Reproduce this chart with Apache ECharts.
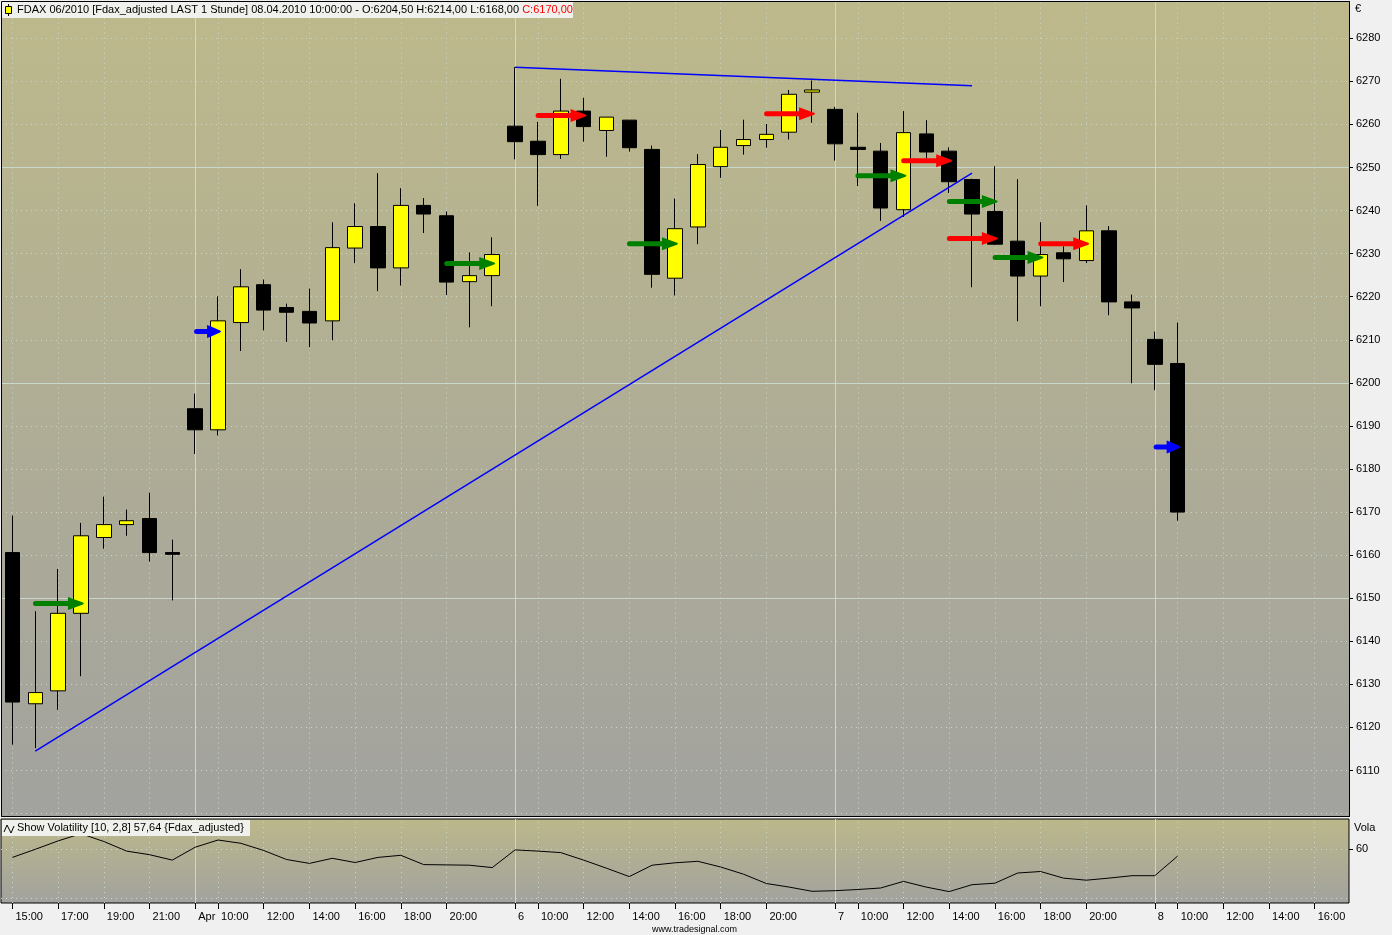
<!DOCTYPE html>
<html><head><meta charset="utf-8">
<script src="https://cdn.jsdelivr.net/npm/echarts@6/dist/echarts.min.js"></script>
<style>html,body{margin:0;padding:0;background:#f0f0f0;}#c{width:1392px;height:935px;}</style>
</head><body><div id="c"></div><script>
// ---------------- data ----------------
const categories = [
 '31.03 15:00','31.03 16:00','31.03 17:00','31.03 18:00','31.03 19:00','31.03 20:00','31.03 21:00','31.03 22:00',
 '01.04 09:00','01.04 10:00','01.04 11:00','01.04 12:00','01.04 13:00','01.04 14:00','01.04 15:00','01.04 16:00','01.04 17:00','01.04 18:00','01.04 19:00','01.04 20:00','01.04 21:00','01.04 22:00',
 '06.04 09:00','06.04 10:00','06.04 11:00','06.04 12:00','06.04 13:00','06.04 14:00','06.04 15:00','06.04 16:00','06.04 17:00','06.04 18:00','06.04 19:00','06.04 20:00','06.04 21:00','06.04 22:00',
 '07.04 09:00','07.04 10:00','07.04 11:00','07.04 12:00','07.04 13:00','07.04 14:00','07.04 15:00','07.04 16:00','07.04 17:00','07.04 18:00','07.04 19:00','07.04 20:00','07.04 21:00','07.04 22:00',
 '08.04 09:00','08.04 10:00','08.04 11:00','08.04 12:00','08.04 13:00','08.04 14:00','08.04 15:00','08.04 16:00','08.04 17:00'
];
const tickLabels = [
 '15:00','','17:00','','19:00','','21:00','',
 'Apr','10:00','','12:00','','14:00','','16:00','','18:00','','20:00','','',
 '6','10:00','','12:00','','14:00','','16:00','','18:00','','20:00','','',
 '7','10:00','','12:00','','14:00','','16:00','','18:00','','20:00','','',
 '8','10:00','','12:00','','14:00','','16:00',''
];
const dayStarts = [8, 22, 36, 50];

const opens  = [6160.6,6125.5,6128.5,6146.5,6164.1,6167.1,6168.5,6160.6,
  6194.0,6189.1,6214.0,6222.8,6217.5,6216.6,6214.4,6231.3,6236.3,6226.7,6241.2,6238.8,6223.5,6224.9,
  6259.6,6256.1,6253.0,6263.1,6258.6,6261.0,6254.2,6224.3,6236.2,6250.2,6255.1,6256.5,6258.2,6267.5,
  6263.5,6254.7,6253.8,6240.2,6257.8,6253.8,6247.2,6239.8,6232.9,6224.8,6230.2,6228.4,6235.3,6218.8,
  6210.1,6204.5];
const closes = [6125.9,6128.1,6146.5,6164.5,6167.1,6168.0,6160.6,6160.2,
  6189.1,6214.4,6222.3,6216.9,6216.4,6213.9,6231.4,6236.3,6226.7,6241.2,6239.2,6223.4,6224.9,6229.8,
  6256.0,6253.0,6263.1,6259.5,6261.7,6254.6,6225.2,6235.8,6250.7,6254.7,6256.5,6257.7,6267.0,6268.0,
  6255.5,6254.2,6240.6,6258.1,6253.6,6246.7,6239.2,6232.2,6224.8,6229.8,6228.8,6235.3,6218.8,6217.4,
  6204.3,6170.0];
const lows   = [6116.0,6115.2,6124.1,6131.9,6161.5,6164.5,6158.5,6149.5,
  6183.5,6187.8,6207.4,6212.2,6209.5,6208.3,6209.9,6227.8,6221.3,6222.6,6234.8,6220.4,6212.9,6217.8,
  6251.9,6241.1,6252.0,6256.0,6252.5,6253.7,6222.1,6220.3,6232.2,6247.6,6253.0,6254.6,6256.5,6260.4,
  6251.6,6245.7,6237.6,6238.5,6252.1,6244.1,6222.2,6232.0,6214.3,6217.8,6223.4,6227.8,6215.7,6199.9,
  6198.3,6168.0];
const highs  = [6169.2,6147.0,6156.8,6167.5,6173.6,6170.6,6174.5,6163.6,
  6197.5,6220.1,6226.4,6224.0,6218.4,6221.9,6237.3,6241.7,6248.7,6245.2,6242.9,6239.8,6230.3,6233.8,
  6273.3,6260.6,6270.6,6266.2,6261.7,6261.0,6255.1,6242.8,6253.1,6258.7,6261.1,6260.1,6268.0,6270.2,
  6264.1,6262.7,6255.7,6263.1,6261.0,6254.7,6247.4,6250.3,6247.3,6237.3,6231.7,6241.2,6236.4,6220.5,
  6211.9,6214.0];

const vola = [57.2,59.9,62.7,65.1,62.5,59.3,58.1,56.3,
  60.6,63.0,61.9,59.5,56.5,55.2,56.9,55.5,57.2,57.9,54.8,54.7,54.6,53.8,
  59.7,59.3,58.8,56.3,53.6,50.8,54.6,55.4,55.9,54.0,51.6,48.5,47.3,45.9,
  46.1,46.5,47.0,49.2,47.3,45.8,48.1,48.6,52.0,52.5,50.3,49.6,50.3,51.1,
  51.1,57.64];

const arrowIndex = [3, 9, 21, 25, 29, 35, 39, 41, 43, 43, 45, 47, 51];
const arrowPrice = [6148.8, 6211.9, 6227.7, 6262.1, 6232.3, 6262.5, 6248.1, 6251.6, 6242.1, 6233.5, 6229.1, 6232.3, 6185.1];
const arrowKind  = ['green','blue','green','red','green','red','green','red','green','red','green','red','blue'];

const upTrend  = [[1, 6114.5], [42, 6248.7]];
const topTrend = [[22, 6273.3], [42, 6269.0]];

const priceSolidLines = [6150, 6200, 6250];
const volaDottedLines = [60, 43.5];
const volaTickValues = [60];

const headerMain  = 'FDAX 06/2010 [Fdax_adjusted LAST 1 Stunde] 08.04.2010 10:00:00 - O:6204,50 H:6214,00 L:6168,00 ';
const headerClose = 'C:6170,00';
const volaTitle   = 'Show Volatility [10, 2,8] 57,64 {Fdax_adjusted}';

// ---------------- chart ----------------
const FONT = 'Liberation Sans';
const gridColor = '#c8d8cc';
const dotted = { color: gridColor, width: 1, type: [1, 4] };
const solid  = { color: gridColor, width: 1, type: 'solid' };
const labeledIdx = tickLabels.map((t, i) => (t !== '' && dayStarts.indexOf(i) < 0) ? i : -1).filter(i => i >= 0);
const vLines = (style, idxs) => idxs.map(i => ({ xAxis: i, lineStyle: style }));
const arrowColors = { green: '#008000', red: '#ff0000', blue: '#0000ff' };
const arrowLen = { green: 51, red: 51, blue: 27 };
const candleData = opens.map((o, i) => [o, closes[i], lows[i], highs[i]]);
const arrowData = arrowIndex.map((x, i) => [x, arrowPrice[i]]);

const grad = (a, b) => ({ type: 'linear', x: 0, y: 0, x2: 0, y2: 1,
  colorStops: [{ offset: 0, color: a }, { offset: 1, color: b }] });

const chart = echarts.init(document.getElementById('c'), null, { renderer: 'canvas' });
const option = {
  animation: false,
  backgroundColor: '#f0f0f0',
  grid: [
    { left: 1, top: 1, width: 1348, height: 812.6, show: false, outerBoundsMode: 'none', containLabel: false },
    { left: 1, top: 819, width: 1348, height: 84, show: true, borderColor: '#000', borderWidth: 1,
      backgroundColor: grad('#bcb88a', '#a2a29f'), outerBoundsMode: 'none', containLabel: false }
  ],
  xAxis: [
    { type: 'category', gridIndex: 0, data: categories, boundaryGap: true,
      axisLine: { show: false }, axisTick: { show: false }, axisLabel: { show: false }, splitLine: { show: false } },
    { type: 'category', gridIndex: 1, data: categories, boundaryGap: true,
      axisLine: { show: false },
      axisTick: { show: true, alignWithLabel: true, length: 6, interval: (i) => tickLabels[i] !== '',
        lineStyle: { color: '#000', width: 1 } },
      axisLabel: { interval: (i) => tickLabels[i] !== '', formatter: (v, i) => tickLabels[i],
        align: 'left', padding: [0, 0, 0, 3], margin: 8, color: '#000', fontFamily: FONT, fontSize: 11, hideOverlap: false },
      splitLine: { show: false } }
  ],
  yAxis: [
    { type: 'value', gridIndex: 0, position: 'right', min: 6100, max: 6288.66, interval: 10,
      axisLine: { show: false },
      axisTick: { show: true, length: 4, lineStyle: { color: '#000' } },
      axisLabel: { margin: 7, padding: [3, 0, 0, 0], showMinLabel: false, showMaxLabel: false, color: '#000', fontFamily: FONT, fontSize: 11,
        formatter: (v) => String(Math.round(v)) },
      splitLine: { show: true, lineStyle: dotted } },
    { type: 'value', gridIndex: 1, position: 'right', min: 42, max: 70,
      axisLine: { show: false },
      axisTick: { show: true, length: 4, customValues: volaTickValues, lineStyle: { color: '#000' } },
      axisLabel: { customValues: volaTickValues, margin: 7, padding: [2, 0, 0, 0], color: '#000', fontFamily: FONT, fontSize: 11 },
      splitLine: { show: false } }
  ],
  series: [
    { type: 'line', xAxisIndex: 0, yAxisIndex: 0, data: [], z: 1, silent: true,
      markLine: { z: 1, symbol: 'none', silent: true, animation: false, label: { show: false },
        data: [].concat(vLines(dotted, labeledIdx), vLines(solid, dayStarts),
          priceSolidLines.map(v => ({ yAxis: v, lineStyle: solid }))) } },
    { type: 'candlestick', xAxisIndex: 0, yAxisIndex: 0, data: candleData, z: 3, barWidth: 15,
      itemStyle: { color: '#ffff00', color0: '#000000', borderColor: '#000000', borderColor0: '#000000', borderWidth: 1 } },
    { type: 'line', xAxisIndex: 0, yAxisIndex: 0, data: [], z: 4, silent: true,
      markLine: { z: 6, symbol: 'none', silent: true, animation: false, label: { show: false },
        lineStyle: { color: '#0000ff', width: 1.5, type: 'solid' },
        data: [
          [{ coord: upTrend[0] }, { coord: upTrend[1] }],
          [{ coord: topTrend[0] }, { coord: topTrend[1] }]
        ] } },
    { type: 'custom', xAxisIndex: 0, yAxisIndex: 0, data: arrowData, z: 7, silent: true,
      renderItem: function (params, api) {
        const kind = arrowKind[params.dataIndex];
        const p = api.coord([api.value(0), api.value(1)]);
        const tip = p[0] + 3, y = p[1];
        const L = arrowLen[kind], c = arrowColors[kind];
        const hl = kind === 'blue' ? 14 : 16;
        return { type: 'group', children: [
          { type: 'rect', shape: { x: tip - L, y: y - 2.5, width: L - hl + 3, height: 5, r: 2.5 }, style: { fill: c } },
          { type: 'polygon', shape: { points: [[tip - hl, y - 6.5], [tip - hl + 4, y - 5], [tip - 1, y - 1], [tip, y],
              [tip - 1, y + 1], [tip - hl + 4, y + 5], [tip - hl, y + 6.5]] }, style: { fill: c } }
        ] };
      } },
    { type: 'line', xAxisIndex: 1, yAxisIndex: 1, data: [], z: 1, silent: true,
      markLine: { z: 1, symbol: 'none', silent: true, animation: false, label: { show: false },
        data: [].concat(vLines(dotted, labeledIdx), vLines(solid, dayStarts),
          volaDottedLines.map(v => ({ yAxis: v, lineStyle: dotted }))) } },
    { type: 'line', xAxisIndex: 1, yAxisIndex: 1, data: vola, z: 3, symbol: 'none', silent: true,
      lineStyle: { color: '#000', width: 1 } }
  ],
  graphic: [
    { type: 'rect', z: -10, shape: { x: 1.5, y: 1.5, width: 1348, height: 815 },
      style: { fill: grad('#bdb98b', '#a2a29f'), stroke: '#000', lineWidth: 1 } },
    { type: 'rect', z: 20, shape: { x: 1.5, y: 1.5, width: 1348, height: 815 },
      style: { fill: null, stroke: '#000', lineWidth: 1 } },
    { type: 'rect', left: 2, top: 2, shape: { width: 571, height: 16 }, style: { fill: '#f0f0ec' }, z: 10 },
    { type: 'line', shape: { x1: 8.5, y1: 4, x2: 8.5, y2: 16 }, style: { stroke: '#000', lineWidth: 1 }, z: 11 },
    { type: 'rect', shape: { x: 5.5, y: 6.5, width: 6, height: 7 }, style: { fill: '#ffff00', stroke: '#000', lineWidth: 1 }, z: 12 },
    { type: 'text', left: 17, top: 4, z: 12,
      style: { text: '{a|' + headerMain + '}{b|' + headerClose + '}',
        rich: { a: { fill: '#000', fontFamily: FONT, fontSize: 11 }, b: { fill: '#ff0000', fontFamily: FONT, fontSize: 11 } } } },
    { type: 'rect', left: 2, top: 820, shape: { width: 248, height: 16 }, style: { fill: '#f0f0ec' }, z: 10 },
    { type: 'polyline', shape: { points: [[4, 832], [7, 825], [11, 833], [14, 826]] }, style: { stroke: '#000', lineWidth: 1, fill: null }, z: 12 },
    { type: 'text', left: 17, top: 822, z: 12, style: { text: volaTitle, fill: '#000', fontFamily: FONT, fontSize: 11 } },
    { type: 'text', left: 1355, top: 3, style: { text: '€', fill: '#000', fontFamily: FONT, fontSize: 11 } },
    { type: 'text', left: 1354, top: 822, style: { text: 'Vola', fill: '#000', fontFamily: FONT, fontSize: 11 } },
    { type: 'text', left: 652, top: 925, style: { text: 'www.tradesignal.com', fill: '#000', fontFamily: FONT, fontSize: 9 } }
  ]
};
chart.setOption(option);
</script></body></html>
